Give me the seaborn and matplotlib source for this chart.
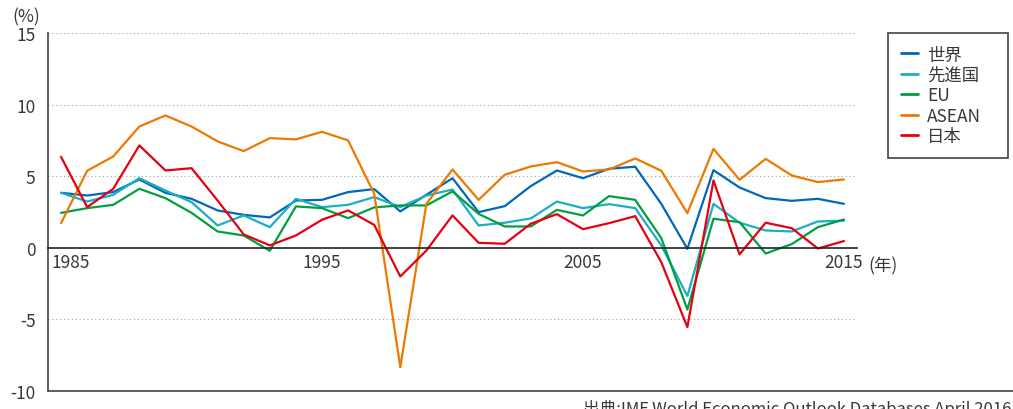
import matplotlib
matplotlib.use("Agg")
import matplotlib.pyplot as plt
import pandas as pd
import seaborn as sns
from matplotlib.lines import Line2D
from matplotlib.transforms import ScaledTranslation

years = list(range(1985, 2016))
regions = ["世界", "先進国", "EU", "ASEAN", "日本"]
colors = ["#0068b7", "#1aafc2", "#00a040", "#ee7800", "#e60012"]

world = [3.84, 3.65, 3.89, 4.77, 3.84, 3.42, 2.61, 2.30, 2.12, 3.30, 3.35, 3.89, 4.10,
         2.54, 3.70, 4.86, 2.49, 2.91, 4.31, 5.40, 4.86, 5.52, 5.66, 3.07, -0.07, 5.42,
         4.21, 3.47, 3.28, 3.42, 3.07]
advanced = [3.84, 3.23, 3.70, 4.86, 4.00, 3.19, 1.56, 2.26, 1.44, 3.42, 2.84, 3.00, 3.54,
            2.84, 3.65, 4.07, 1.56, 1.75, 2.05, 3.23, 2.77, 3.05, 2.77, 0.17, -3.37, 3.07,
            1.75, 1.21, 1.14, 1.84, 1.89]
eu = [2.44, 2.77, 3.00, 4.12, 3.47, 2.44, 1.14, 0.86, -0.21, 2.89, 2.77, 2.07, 2.82,
      2.96, 2.96, 3.94, 2.37, 1.49, 1.49, 2.65, 2.26, 3.61, 3.35, 0.68, -4.31, 2.03,
      1.79, -0.40, 0.26, 1.44, 1.98]
asean = [1.72, 5.38, 6.38, 8.47, 9.24, 8.47, 7.43, 6.75, 7.66, 7.57, 8.10, 7.50, 3.77,
         -8.33, 3.07, 5.47, 3.35, 5.10, 5.68, 5.98, 5.33, 5.47, 6.24, 5.38, 2.42, 6.91,
         4.75, 6.21, 5.05, 4.59, 4.77]
japan = [6.35, 2.84, 4.12, 7.15, 5.40, 5.56, 3.30, 0.93, 0.17, 0.86, 1.96, 2.61, 1.60,
         -2.00, -0.19, 2.26, 0.35, 0.28, 1.68, 2.35, 1.30, 1.72, 2.21, -1.00, -5.54, 4.70,
         -0.46, 1.75, 1.37, -0.05, 0.47]

x_labels = [1985, 1995, 2005, 2015]
y_ticks = [-10, -5, 0, 5, 10, 15]
source = "出典:IMF World Economic Outlook Databases April 2016"

sns.set_style("white")
plt.rcParams["font.family"] = ["Noto Sans CJK JP", "DejaVu Sans"]
text_color = "#383838"

df = pd.DataFrame({"year": years * 5,
                   "value": world + advanced + eu + asean + japan,
                   "region": sum([[r] * len(years) for r in regions], [])})

fig = plt.figure(figsize=(10.13, 4.10), dpi=100)
ax = fig.add_axes([48 / 1013, 18 / 410, 809 / 1013, 358 / 410])

sns.lineplot(data=df, x="year", y="value", hue="region", hue_order=regions,
             palette=colors, linewidth=1.6, ax=ax, legend=True)

ax.set_xlim(1984.5, 2015.5)
ax.set_ylim(-10, 15)
ax.set_xlabel("")
ax.set_ylabel("")

# dotted grid
for v in [15, 10, 5, -5]:
    ax.axhline(v, color="#a0a0a0", linestyle=(0, (1, 2.5)), linewidth=0.8, zorder=0)

# spines
for s in ["top", "right"]:
    ax.spines[s].set_visible(False)
ax.spines["bottom"].set_position(("data", 0))
ax.spines["bottom"].set_color("#222222")
ax.spines["bottom"].set_linewidth(1.2)
ax.spines["left"].set_color("#444444")
ax.spines["left"].set_linewidth(1.2)

ax.set_yticks(y_ticks)
ax.set_yticklabels([str(v) for v in y_ticks])
ax.tick_params(axis="y", length=0, pad=9, labelsize=12.5, labelcolor=text_color)

ax.set_xticks(x_labels)
ax.set_xticklabels([str(v) for v in x_labels])
ax.set_xticks([y + 0.5 for y in years], minor=True)
ax.tick_params(axis="x", which="major", length=0, pad=4, labelsize=12.5, labelcolor=text_color)
ax.tick_params(axis="x", which="minor", direction="in", length=7, width=1.1, color="#222222")

first = ax.get_xticklabels()[0]
first.set_transform(first.get_transform() + ScaledTranslation(10 / 100, 0, fig.dpi_scale_trans))

# bottom border running to the right edge
fig.add_artist(Line2D([48 / 1013, 1.0], [18 / 410, 18 / 410], color="#444444", linewidth=1.2))

fig.text(868 / 1013, (410 - 266) / 410, "(年)", fontsize=12.5, color=text_color, va="center")
fig.text(12 / 1013, (410 - 17) / 410, "(%)", fontsize=12.5, color=text_color, va="center")
fig.text(583 / 1013, (410 - 400) / 410, source, fontsize=12.0, color=text_color, va="top")

handles, labels = ax.get_legend_handles_labels()
for h in handles:
    h.set_linewidth(2)
ax.legend(handles, labels, loc="upper left",
          bbox_to_anchor=(888 / 1013, (410 - 158) / 410, 120 / 1013, 124 / 410),
          bbox_transform=fig.transFigure, mode="expand", fontsize=12.5, frameon=True,
          fancybox=False, edgecolor="#444444", framealpha=1, handlelength=1.0,
          handletextpad=0.55, labelspacing=0.14, borderpad=0.72, borderaxespad=0)
leg = ax.get_legend()
leg.get_frame().set_linewidth(1.2)
for t in leg.get_texts():
    t.set_color(text_color)

fig.savefig("out.png", dpi=100)
